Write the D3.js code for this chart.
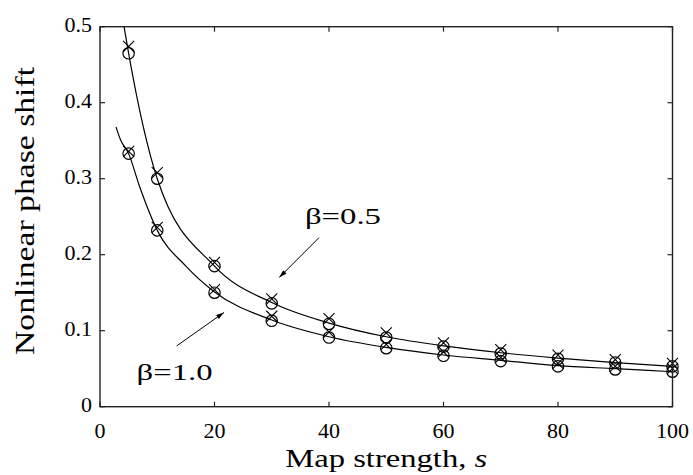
<!DOCTYPE html>
<html><head><meta charset="utf-8">
<script src="https://cdn.jsdelivr.net/npm/d3@7"></script>
<style>
html,body{margin:0;padding:0;background:#fff;}
svg{display:block;}
text{font-family:"Liberation Serif","Times New Roman","DejaVu Serif",serif;fill:#000;}
</style></head>
<body>
<svg id="chart" width="693" height="475"></svg>
<script>
// ---- data ----
const sValues = [5, 10, 20, 30, 40, 50, 60, 70, 80, 90, 100];
const circlesBeta05 = [0.465, 0.300, 0.185, 0.136, 0.109, 0.091, 0.079, 0.070, 0.063, 0.058, 0.053];
const crossesBeta05 = [0.474, 0.308, 0.190, 0.142, 0.116, 0.097, 0.084, 0.075, 0.068, 0.062, 0.057];
const circlesBeta10 = [0.333, 0.232, 0.150, 0.113, 0.091, 0.077, 0.067, 0.060, 0.053, 0.049, 0.046];
const crossesBeta10 = [0.336, 0.236, 0.154, 0.119, 0.098, 0.082, 0.072, 0.065, 0.057, 0.053, 0.050];
const curveS05 = [4.2, 5, 10, 20, 30, 40, 50, 60, 70, 80, 90, 100];
const curveV05 = [0.500, 0.465, 0.300, 0.185, 0.137, 0.110, 0.092, 0.080, 0.071, 0.064, 0.058, 0.053];
const curveS10 = [2.8, 3.6, 5, 6.9, 10, 15, 20, 30, 40, 50, 60, 70, 80, 90, 100];
const curveV10 = [0.368, 0.351, 0.333, 0.290, 0.232, 0.185, 0.151, 0.114, 0.092, 0.078, 0.068, 0.061, 0.054, 0.050, 0.046];
const xTicks = [0, 20, 40, 60, 80, 100];
const yTicks = [0, 0.1, 0.2, 0.3, 0.4, 0.5];
const yTickLabels = ["0", "0.1", "0.2", "0.3", "0.4", "0.5"];
const xTitle = "Map strength, ";
const xTitleItalic = "s";
const yTitle = "Nonlinear phase shift";
const annotations = [
  {label: "β=0.5", tx: 35.8, ty: 0.240, from: [38.25, 0.2224], to: [31.3, 0.170]},
  {label: "β=1.0", tx: 6.4, ty: 0.035, from: [13.4, 0.080], to: [21.66, 0.124]}
];

// ---- layout ----
const pLeft = 100, pRight = 672.5, pTop = 26.7, pBottom = 406.7;
const x = d3.scaleLinear().domain([0, 100]).range([pLeft, pRight]);
const y = d3.scaleLinear().domain([0, 0.5]).range([pBottom, pTop]);
const svg = d3.select("#chart");
const ink = "#000", axisInk = "#222";

svg.append("defs").append("marker")
  .attr("id", "arrow").attr("viewBox", "0 0 10 6").attr("refX", 10).attr("refY", 3)
  .attr("markerWidth", 8).attr("markerHeight", 5).attr("markerUnits", "userSpaceOnUse")
  .attr("orient", "auto")
  .append("path").attr("d", "M0,0 L10,3 L0,6 Z").attr("fill", ink);

svg.append("clipPath").attr("id", "clip").append("rect")
  .attr("x", pLeft).attr("y", pTop).attr("width", pRight - pLeft).attr("height", pBottom - pTop);

const line = d3.line().curve(d3.curveMonotoneX).x(d => x(d[0])).y(d => y(d[1]));
const g = svg.append("g").attr("clip-path", "url(#clip)");
[[curveS05, curveV05], [curveS10, curveV10]].forEach(([S, V]) => {
  g.append("path").datum(S.map((s, i) => [s, V[i]]))
    .attr("d", line).attr("fill", "none").attr("stroke", ink).attr("stroke-width", 1.2);
});

const r = 5.7;
[circlesBeta05, circlesBeta10].forEach(vals => {
  svg.append("g").selectAll("circle").data(sValues.map((s, i) => [s, vals[i]])).join("circle")
    .attr("cx", d => x(d[0])).attr("cy", d => y(d[1])).attr("r", r)
    .attr("fill", "none").attr("stroke", ink).attr("stroke-width", 1.2);
});
const cs = 5.5;
[crossesBeta05, crossesBeta10].forEach(vals => {
  svg.append("g").selectAll("path").data(sValues.map((s, i) => [s, vals[i]])).join("path")
    .attr("d", d => {
      const cx = x(d[0]), cy = y(d[1]);
      return `M${cx - cs},${cy - cs}L${cx + cs},${cy + cs}M${cx - cs},${cy + cs}L${cx + cs},${cy - cs}`;
    })
    .attr("fill", "none").attr("stroke", ink).attr("stroke-width", 1.1);
});

svg.append("rect").attr("x", pLeft).attr("y", pTop).attr("width", pRight - pLeft).attr("height", pBottom - pTop)
  .attr("fill", "none").attr("stroke", axisInk).attr("stroke-width", 1.4);
const tl = 5;
const tickG = svg.append("g").attr("stroke", axisInk).attr("stroke-width", 1.2);
xTicks.forEach(t => {
  tickG.append("line").attr("x1", x(t)).attr("x2", x(t)).attr("y1", pBottom).attr("y2", pBottom - tl);
  tickG.append("line").attr("x1", x(t)).attr("x2", x(t)).attr("y1", pTop).attr("y2", pTop + tl);
});
yTicks.forEach(t => {
  tickG.append("line").attr("x1", pLeft).attr("x2", pLeft + tl).attr("y1", y(t)).attr("y2", y(t));
  tickG.append("line").attr("x1", pRight).attr("x2", pRight - tl).attr("y1", y(t)).attr("y2", y(t));
});

const tickFont = 22;
xTicks.forEach(t => {
  svg.append("text").attr("x", x(t)).attr("y", pBottom + 31)
    .attr("text-anchor", "middle").attr("font-size", tickFont).text(t);
});
yTicks.forEach((t, i) => {
  svg.append("text").attr("x", pLeft - 8).attr("y", y(t) + 5.5)
    .attr("text-anchor", "end").attr("font-size", tickFont).text(yTickLabels[i]);
});

const xt = svg.append("text").attr("x", (pLeft + pRight) / 2).attr("y", 466.7)
  .attr("text-anchor", "middle").attr("font-size", 25)
  .attr("textLength", 202).attr("lengthAdjust", "spacingAndGlyphs");
xt.append("tspan").text(xTitle);
xt.append("tspan").attr("font-style", "italic").text(xTitleItalic);

svg.append("text").attr("transform", `translate(33.5,211) rotate(-90)`)
  .attr("text-anchor", "middle").attr("font-size", 27.5)
  .attr("textLength", 288).attr("lengthAdjust", "spacingAndGlyphs").text(yTitle);

annotations.forEach(a => {
  svg.append("line").attr("x1", x(a.from[0])).attr("y1", y(a.from[1]))
    .attr("x2", x(a.to[0])).attr("y2", y(a.to[1]))
    .attr("stroke", ink).attr("stroke-width", 1).attr("marker-end", "url(#arrow)");
  svg.append("text").attr("x", x(a.tx)).attr("y", y(a.ty)).attr("font-size", 24)
    .attr("textLength", 76).attr("lengthAdjust", "spacingAndGlyphs").text(a.label);
});
</script>
</body></html>
